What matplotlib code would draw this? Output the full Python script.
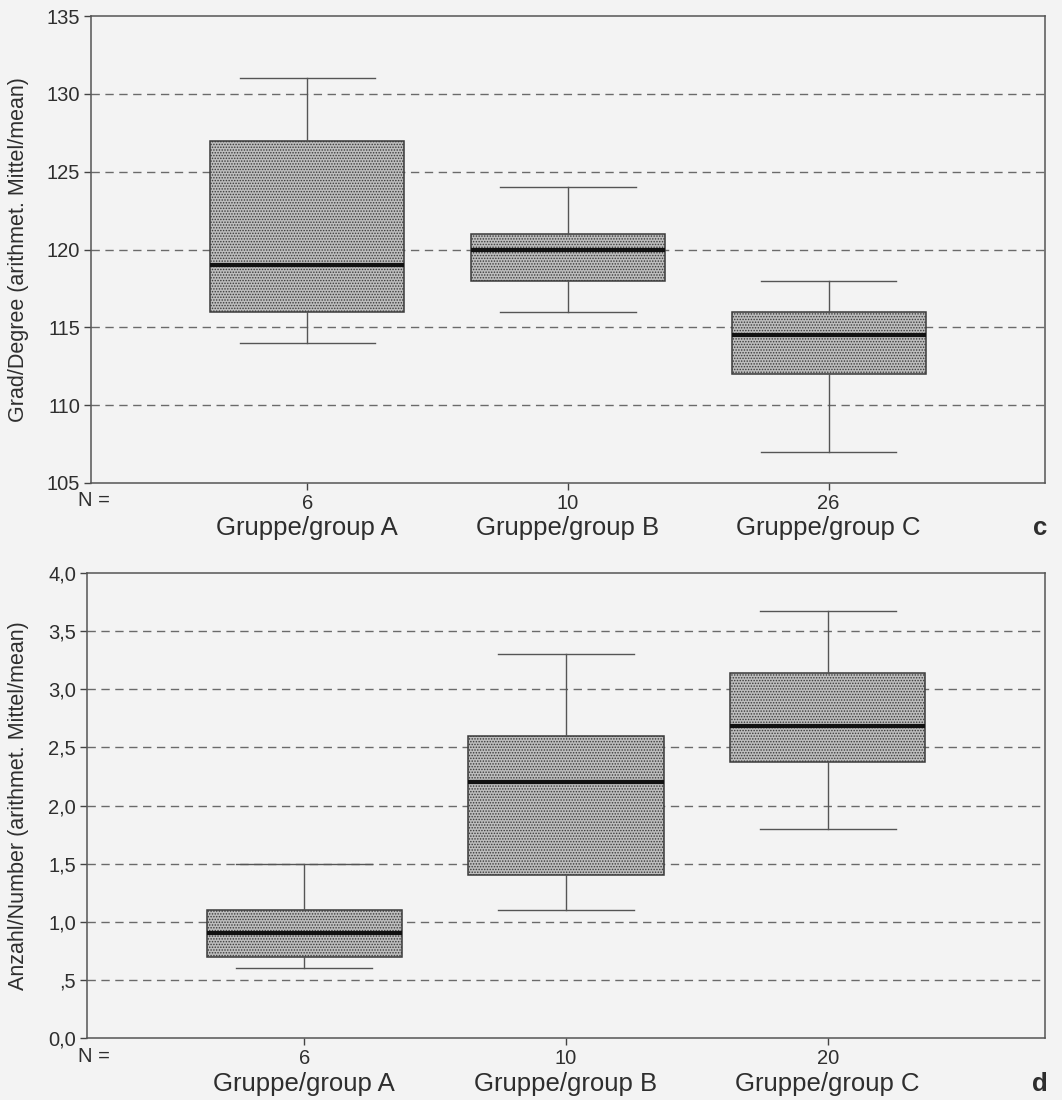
import matplotlib
matplotlib.use("Agg")
import matplotlib.pyplot as plt
from matplotlib.transforms import blended_transform_factory

plt.rcParams['font.family'] = ['Liberation Sans', 'DejaVu Sans']
plt.rcParams['hatch.linewidth'] = 0.7
plt.rcParams['hatch.color'] = '#555555'

groups = ["Gruppe/group A", "Gruppe/group B", "Gruppe/group C"]

# Panel c: Grad/Degree
c_n = ["6", "10", "26"]
c_whislo = [114, 116, 107]
c_q1 = [116, 118, 112]
c_med = [119, 120, 114.5]
c_q3 = [127, 121, 116]
c_whishi = [131, 124, 118]
c_ticks = [105, 110, 115, 120, 125, 130, 135]
c_ticklabels = ["105", "110", "115", "120", "125", "130", "135"]

# Panel d: Anzahl/Number
d_n = ["6", "10", "20"]
d_whislo = [0.6, 1.1, 1.8]
d_q1 = [0.7, 1.4, 2.37]
d_med = [0.9, 2.2, 2.68]
d_q3 = [1.1, 2.6, 3.14]
d_whishi = [1.5, 3.3, 3.67]
d_ticks = [0.0, 0.5, 1.0, 1.5, 2.0, 2.5, 3.0, 3.5, 4.0]
d_ticklabels = ["0,0", ",5", "1,0", "1,5", "2,0", "2,5", "3,0", "3,5", "4,0"]

BG = '#f3f3f3'
TXT = '#2e2e2e'
fig = plt.figure(figsize=(10.62, 11.0), dpi=100, facecolor=BG)


def panel(rect, whislo, q1, med, q3, whishi, ns, ticks, ticklabels, ylabel, letter, label_y_px):
    ax = fig.add_axes(rect, facecolor=BG)
    stats = []
    for i in range(len(groups)):
        stats.append(dict(whislo=whislo[i], q1=q1[i], med=med[i], q3=q3[i],
                          whishi=whishi[i], fliers=[], label=ns[i]))
    pos = [1, 2, 3]
    ax.bxp(stats, positions=pos, widths=0.745, patch_artist=True,
           showfliers=False, capwidths=0.52,
           boxprops=dict(facecolor='#bdbdbd', edgecolor='#3a3a3a', linewidth=1.1, hatch='......'),
           medianprops=dict(color='#111111', linewidth=3.0),
           whiskerprops=dict(color='#555555', linewidth=1.0),
           capprops=dict(color='#555555', linewidth=1.0), zorder=3)
    ax.set_xlim(0.17, 3.83)
    ax.set_ylim(ticks[0], ticks[-1])
    ax.set_yticks(ticks)
    ax.set_yticklabels(ticklabels, fontsize=14.5, color=TXT)
    for t in ticks[1:-1]:
        ax.axhline(t, color='#6a6a6a', linewidth=1.0, linestyle=(0, (6, 4)), zorder=1)
    ax.set_xticks(pos)
    ax.set_xticklabels(ns, fontsize=14.5, color=TXT)
    ax.tick_params(axis='both', direction='out', length=5, width=1, color='#444444', pad=3)
    for s in ax.spines.values():
        s.set_color('#555555')
        s.set_linewidth(1.1)
    ax.set_ylabel(ylabel, fontsize=15.5, color=TXT)
    ax.yaxis.set_label_coords((29 - rect[0] * 1062) / (rect[2] * 1062), 0.5)
    tr = blended_transform_factory(ax.transData, fig.transFigure)
    yfig = 1 - label_y_px / 1100
    for p, g in zip(pos, groups):
        ax.text(p, yfig, g, transform=tr, ha='center', va='center', fontsize=18.5, color=TXT)
    fig.text(1040 / 1062, yfig, letter, ha='center', va='center', fontsize=18.5,
             fontweight='bold', color=TXT)
    ax_bottom_px = (1 - rect[1]) * 1100
    fig.text(78 / 1062, 1 - (ax_bottom_px + 18) / 1100, "N =", ha='left', va='center',
             fontsize=14.5, color=TXT)
    return ax


panel([91 / 1062, 1 - 483 / 1100, (1045 - 91) / 1062, (483 - 16) / 1100],
      c_whislo, c_q1, c_med, c_q3, c_whishi, c_n, c_ticks, c_ticklabels,
      "Grad/Degree (arithmet. Mittel/mean)", "c", 528)
panel([87 / 1062, 1 - 1038 / 1100, (1045 - 87) / 1062, (1038 - 573) / 1100],
      d_whislo, d_q1, d_med, d_q3, d_whishi, d_n, d_ticks, d_ticklabels,
      "Anzahl/Number (arithmet. Mittel/mean)", "d", 1084)

fig.savefig("out.png", dpi=100, facecolor=BG)
